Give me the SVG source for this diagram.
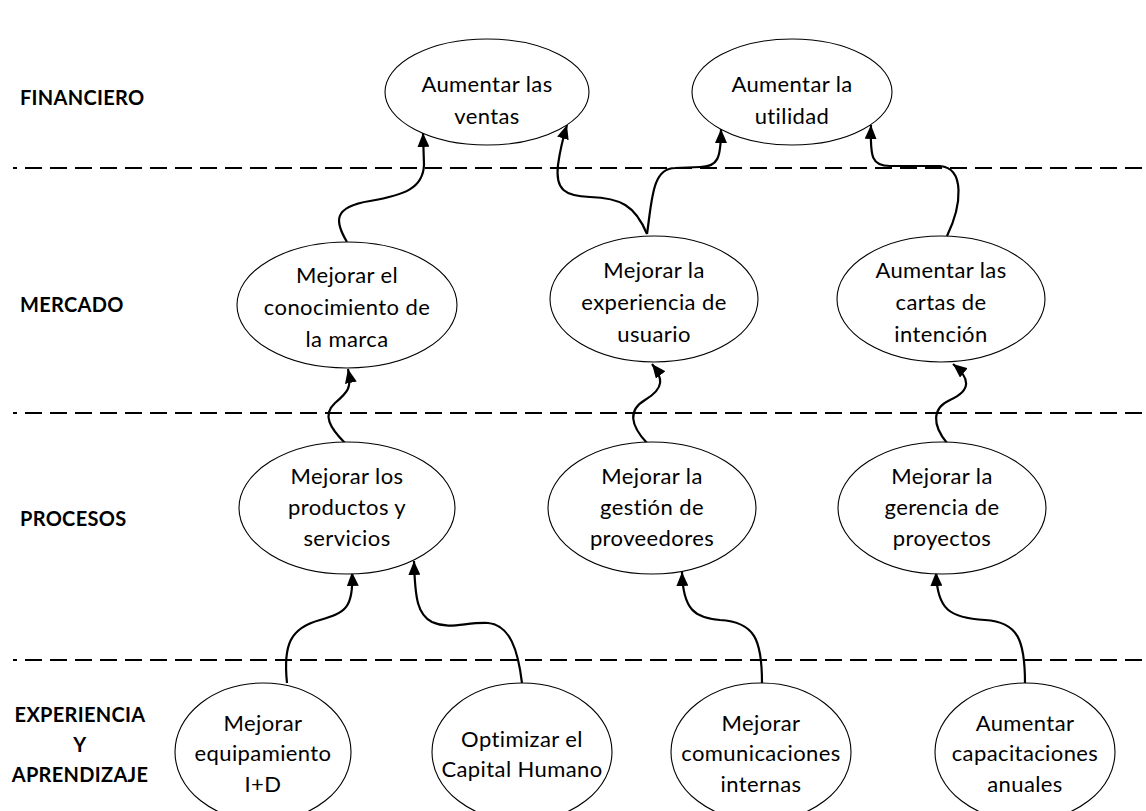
<svg xmlns="http://www.w3.org/2000/svg" width="1146" height="811" viewBox="0 0 1146 811">
  <style>
    .node ellipse { fill: #ffffff; stroke: #000000; stroke-width: 1.1; }
    .node text { font-family: Lato, "Open Sans", sans-serif; font-size: 22px; letter-spacing: 0.4px; fill: #000000; text-anchor: middle; dominant-baseline: central; }
    .lane { stroke: #000000; stroke-width: 2; stroke-dasharray: 17 8; stroke-dashoffset: 13; }
    .label { font-family: Lato, "Open Sans", sans-serif; font-size: 20px; letter-spacing: 0.3px; font-weight: bold; fill: #000000; dominant-baseline: central; }
    .conn path { fill: none; stroke: #000000; stroke-width: 2.2; marker-end: url(#arrow); }
  </style>
  <defs>
    <marker id="arrow" markerUnits="userSpaceOnUse" markerWidth="15" markerHeight="12" refX="14" refY="6" orient="auto">
      <path d="M0,0 L14,6 L0,12 Z" fill="#000000"/>
    </marker>
  </defs>
  <rect width="1146" height="811" fill="#ffffff"/>

  <!-- lane separators -->
  <g id="lanes">
    <line class="lane" x1="13" y1="168" x2="1146" y2="168"/>
    <line class="lane" x1="13" y1="413" x2="1146" y2="413"/>
    <line class="lane" x1="13" y1="660" x2="1146" y2="660"/>
  </g>

  <!-- lane titles -->
  <g id="lane-labels">
    <text class="label" x="20" y="97">FINANCIERO</text>
    <text class="label" x="20" y="304">MERCADO</text>
    <text class="label" x="20" y="518">PROCESOS</text>
    <text class="label" x="80" y="714" text-anchor="middle">EXPERIENCIA</text>
    <text class="label" x="80" y="744" text-anchor="middle">Y</text>
    <text class="label" x="80" y="774" text-anchor="middle">APRENDIZAJE</text>
  </g>

  <!-- connectors -->
  <g id="connectors" class="conn">
    <path d="M347,242 C335,222 332,207 370,201 C405,195 423,188 424,165 L423,133"/>
    <path d="M647,234 C635,205 620,198 590,197 C565,196 555,190 558,165 C560,150 563,138 567,125"/>
    <path d="M647,234 C652,200 652,168 675,168 L700,167 C718,167 721,158 721,129"/>
    <path d="M947,236 C962,205 965,168 940,166 L890,166 C872,166 870,158 871,125"/>
    <path d="M345,443 C330,428 322,415 335,403 C348,392 352,388 348,369"/>
    <path d="M647,443 C630,425 628,410 645,400 C665,388 663,378 652,364"/>
    <path d="M947,443 C932,425 932,408 950,400 C972,390 970,378 953,364"/>
    <path d="M287,683 C283,645 290,628 320,620 C345,613 354,608 352,572"/>
    <path d="M522,683 C518,650 510,625 488,623 C465,622 450,630 432,622 C418,615 415,600 414,561"/>
    <path d="M762,683 C762,640 755,622 720,620 C695,618 683,610 682,572"/>
    <path d="M1025,683 C1025,640 1018,622 985,620 C950,618 937,610 936,572"/>
  </g>

  <!-- FINANCIERO -->
  <g id="aumentar-ventas" class="node">
    <ellipse cx="487" cy="92" rx="102" ry="53"/>
    <text x="487" y="83">Aumentar las</text>
    <text x="487" y="115">ventas</text>
  </g>
  <g id="aumentar-utilidad" class="node">
    <ellipse cx="792" cy="92" rx="100" ry="53"/>
    <text x="792" y="83">Aumentar la</text>
    <text x="792" y="115">utilidad</text>
  </g>

  <!-- MERCADO -->
  <g id="conocimiento-marca" class="node">
    <ellipse cx="347" cy="305" rx="110" ry="63"/>
    <text x="347" y="274">Mejorar el</text>
    <text x="347" y="306">conocimiento de</text>
    <text x="347" y="338">la marca</text>
  </g>
  <g id="experiencia-usuario" class="node">
    <ellipse cx="654" cy="299" rx="104" ry="63"/>
    <text x="654" y="269">Mejorar la</text>
    <text x="654" y="301">experiencia de</text>
    <text x="654" y="333">usuario</text>
  </g>
  <g id="cartas-intencion" class="node">
    <ellipse cx="941" cy="299" rx="104" ry="63"/>
    <text x="941" y="269">Aumentar las</text>
    <text x="941" y="301">cartas de</text>
    <text x="941" y="333">intención</text>
  </g>

  <!-- PROCESOS -->
  <g id="productos-servicios" class="node">
    <ellipse cx="347" cy="508" rx="108" ry="66"/>
    <text x="347" y="475">Mejorar los</text>
    <text x="347" y="506">productos y</text>
    <text x="347" y="537">servicios</text>
  </g>
  <g id="gestion-proveedores" class="node">
    <ellipse cx="652" cy="508" rx="104" ry="66"/>
    <text x="652" y="475">Mejorar la</text>
    <text x="652" y="506">gestión de</text>
    <text x="652" y="537">proveedores</text>
  </g>
  <g id="gerencia-proyectos" class="node">
    <ellipse cx="942" cy="508" rx="104" ry="66"/>
    <text x="942" y="475">Mejorar la</text>
    <text x="942" y="506">gerencia de</text>
    <text x="942" y="537">proyectos</text>
  </g>

  <!-- EXPERIENCIA Y APRENDIZAJE -->
  <g id="equipamiento" class="node">
    <ellipse cx="263" cy="752" rx="88" ry="69"/>
    <text x="263" y="722">Mejorar</text>
    <text x="263" y="752">equipamiento</text>
    <text x="263" y="783">I+D</text>
  </g>
  <g id="capital-humano" class="node">
    <ellipse cx="522" cy="752" rx="90" ry="69"/>
    <text x="522" y="738">Optimizar el</text>
    <text x="522" y="768">Capital Humano</text>
  </g>
  <g id="comunicaciones" class="node">
    <ellipse cx="761" cy="752" rx="90" ry="69"/>
    <text x="761" y="722">Mejorar</text>
    <text x="761" y="752">comunicaciones</text>
    <text x="761" y="783">internas</text>
  </g>
  <g id="capacitaciones" class="node">
    <ellipse cx="1025" cy="752" rx="90" ry="69"/>
    <text x="1025" y="722">Aumentar</text>
    <text x="1025" y="752">capacitaciones</text>
    <text x="1025" y="783">anuales</text>
  </g>
</svg>
